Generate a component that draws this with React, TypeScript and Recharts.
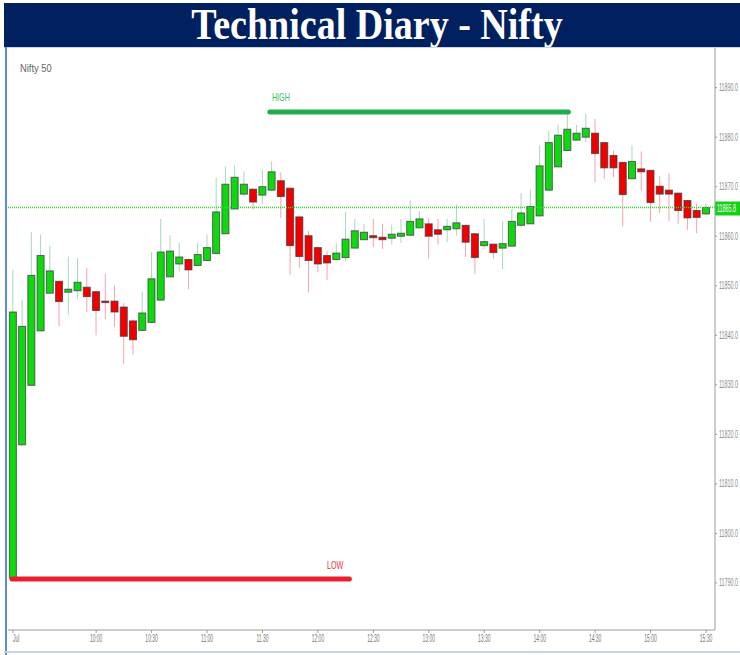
import { ComposedChart, Bar, XAxis, YAxis, ReferenceLine } from 'recharts'

// 5-minute candles, 09:15 .. 15:30
const opens = [
  11791.0, 11817.9, 11829.9, 11840.9, 11848.5, 11850.9, 11848.7, 11849.0, 11849.7, 11848.8,
  11846.9, 11846.9, 11845.7, 11842.9, 11841.0, 11842.6, 11847.1, 11851.8, 11854.4, 11855.3,
  11854.1, 11855.1, 11856.5, 11860.5, 11865.5, 11868.5, 11869.5, 11868.3, 11869.3, 11871.2,
  11869.7, 11863.9, 11860.1, 11857.7, 11856.1, 11855.3, 11855.7, 11857.6, 11859.3, 11860.1,
  11859.8, 11859.6, 11860.0, 11860.2, 11861.7, 11862.5, 11861.3, 11861.3, 11861.5, 11862.2,
  11860.5, 11858.1, 11858.4, 11857.6, 11858.0, 11862.2, 11862.5, 11864.1, 11869.3, 11874.0,
  11877.3, 11879.4, 11880.0, 11880.8, 11878.9, 11876.3, 11874.9, 11871.6, 11873.6, 11873.3,
  11870.1, 11869.3, 11868.7, 11867.2, 11865.2, 11864.5,
]
const highs = [
  11853.2, 11847.2, 11860.8, 11860.4, 11858.1, 11851.0, 11855.9, 11855.6, 11853.6, 11849.0,
  11852.4, 11850.0, 11846.5, 11843.1, 11848.8, 11856.8, 11863.5, 11860.2, 11858.7, 11855.5,
  11858.7, 11860.4, 11871.8, 11874.1, 11874.3, 11873.1, 11869.6, 11873.4, 11875.1, 11872.9,
  11869.8, 11863.9, 11861.1, 11857.9, 11857.0, 11858.6, 11864.9, 11863.5, 11862.5, 11863.5,
  11862.5, 11862.3, 11863.5, 11867.2, 11865.0, 11863.7, 11863.5, 11863.5, 11866.4, 11862.3,
  11860.6, 11863.5, 11858.5, 11863.0, 11865.5, 11868.7, 11869.4, 11878.3, 11881.3, 11882.5,
  11885.2, 11882.5, 11884.7, 11883.7, 11879.0, 11877.3, 11875.0, 11878.3, 11877.1, 11873.4,
  11872.2, 11872.8, 11868.8, 11867.3, 11866.6, 11866.6,
]
const lows = [
  11790.6, 11817.5, 11829.8, 11840.8, 11848.4, 11841.8, 11844.1, 11847.4, 11844.7, 11840.0,
  11843.3, 11841.7, 11834.2, 11836.1, 11840.8, 11842.5, 11847.1, 11851.7, 11852.9, 11849.3,
  11854.0, 11855.1, 11856.4, 11860.4, 11865.5, 11868.0, 11865.4, 11866.4, 11869.2, 11863.7,
  11852.2, 11853.6, 11848.6, 11852.7, 11851.2, 11855.2, 11855.0, 11857.6, 11859.2, 11857.8,
  11857.4, 11858.3, 11858.6, 11860.2, 11861.6, 11855.5, 11858.3, 11858.8, 11860.1, 11855.8,
  11852.4, 11857.3, 11855.5, 11853.4, 11857.9, 11862.1, 11862.5, 11864.0, 11869.2, 11874.0,
  11877.2, 11879.3, 11879.0, 11870.9, 11871.6, 11871.9, 11862.0, 11871.5, 11869.2, 11862.9,
  11864.7, 11863.0, 11862.5, 11861.3, 11860.6, 11864.4,
]
const closes = [
  11844.7, 11841.8, 11852.1, 11856.1, 11853.0, 11846.8, 11849.3, 11850.7, 11847.8, 11845.0,
  11846.6, 11844.7, 11839.8, 11839.1, 11844.5, 11851.4, 11856.8, 11857.0, 11855.8, 11853.2,
  11856.3, 11857.7, 11864.9, 11870.5, 11871.9, 11870.5, 11866.9, 11870.0, 11873.0, 11868.0,
  11858.1, 11855.9, 11855.1, 11854.4, 11854.6, 11856.6, 11859.4, 11861.1, 11860.8, 11859.7,
  11859.3, 11860.4, 11860.6, 11863.0, 11863.5, 11860.0, 11860.4, 11862.0, 11862.7, 11858.8,
  11855.7, 11858.9, 11856.7, 11858.5, 11863.0, 11864.7, 11866.0, 11874.2, 11878.9, 11880.4,
  11881.6, 11880.8, 11881.8, 11876.7, 11873.8, 11873.8, 11868.4, 11875.1, 11873.0, 11866.8,
  11868.5, 11868.5, 11865.2, 11863.7, 11863.8, 11865.8,
]

const timeTickIndexes = [0, 9, 15, 21, 27, 33, 39, 45, 51, 57, 63, 69, 75]
const timeTickLabels = [
  'Jul', '10:00', '10:30', '11:00', '11:30', '12:00', '12:30',
  '13:00', '13:30', '14:00', '14:30', '15:00', '15:30',
]
const priceTicks = [11790, 11800, 11810, 11820, 11830, 11840, 11850, 11860, 11870, 11880, 11890]
const lastPrice = 11865.8
const dayHigh = { value: 11885.1, from: 27.8, to: 60.1 }
const dayLow = { value: 11790.8, from: -0.1, to: 36.4 }

const FONT = "'Liberation Sans', Arial, sans-serif"

const candles = opens.map((open, i) => ({
  i,
  open,
  high: highs[i],
  low: lows[i],
  close: closes[i],
}))

// squeezed text, the source chart uses a very narrow font
const Narrow = ({ x, y, sx, anchor, fill, size, children }: any) => (
  <g transform={`translate(${x},${y}) scale(${sx},1)`}>
    <text x={0} y={0} fill={fill} fontSize={size} fontFamily={FONT} textAnchor={anchor ?? 'start'}>
      {children}
    </text>
  </g>
)

const Candle = (props: any) => {
  const { x, y, width, height, payload } = props
  const { open, close, high, low } = payload
  const up = close >= open
  const top = Math.min(y, y + height)
  const h = Math.abs(height)
  const ppu = h / (high - low || 1)
  const yOf = (v: number) => top + (high - v) * ppu
  const cx = x + width / 2
  const bodyTop = yOf(Math.max(open, close))
  const bodyBot = yOf(Math.min(open, close))
  return (
    <g>
      <line
        x1={cx}
        x2={cx}
        y1={top}
        y2={top + h}
        stroke={up ? '#a9d8bb' : '#f5a3ab'}
        strokeWidth={1}
      />
      <rect
        x={x}
        y={bodyTop}
        width={width}
        height={Math.max(bodyBot - bodyTop, 1.5)}
        fill={up ? '#10d810' : '#f20000'}
        stroke="#3a3a3a"
        strokeOpacity={0.75}
        strokeWidth={1}
      />
    </g>
  )
}

const TimeTick = (props: any) => {
  const { x, y, payload } = props
  const label = timeTickLabels[timeTickIndexes.indexOf(payload.value)] ?? ''
  return (
    <Narrow
      x={x}
      y={y + 8.5}
      sx={0.5}
      size={10}
      fill="#777"
      anchor={label === 'Jul' ? 'start' : 'middle'}
    >
      {label}
    </Narrow>
  )
}

const PriceTick = (props: any) => {
  const { x, y, payload } = props
  return (
    <Narrow x={x + 1} y={y + 3.5} sx={0.54} size={10} fill="#8a8a8a">
      {Number(payload.value).toFixed(1)}
    </Narrow>
  )
}

const PriceTag = (props: any) => {
  const { viewBox } = props
  const x = viewBox.x + viewBox.width
  const y = viewBox.y
  return (
    <g>
      <rect x={x} y={y - 6} width={30} height={14} fill="#16d016" />
      <Narrow x={x + 2} y={y + 4.5} sx={0.54} size={10} fill="#fff">
        {lastPrice.toFixed(1)}
      </Narrow>
    </g>
  )
}

const HighTag = (props: any) => {
  const { viewBox } = props
  return (
    <Narrow x={viewBox.x + 2} y={viewBox.y - 11} sx={0.72} size={10} fill="#3cbf62">
      HIGH
    </Narrow>
  )
}

const LowTag = (props: any) => {
  const { viewBox } = props
  return (
    <Narrow x={viewBox.x + viewBox.width - 6} y={viewBox.y - 10} sx={0.72} size={10} fill="#e8303c" anchor="end">
      LOW
    </Narrow>
  )
}

export default function App() {
  return (
    <div style={{ position: 'relative', width: 740, height: 655, overflow: 'hidden', background: '#fff' }}>
      <style>{'body{margin:0}'}</style>
      <div
        style={{
          position: 'absolute',
          left: 4,
          top: 3,
          width: 736,
          height: 44,
          background: '#002060',
        }}
      />
      <span
        style={{
          position: 'absolute',
          left: 377,
          top: 3,
          height: 44,
          lineHeight: '44px',
          whiteSpace: 'nowrap',
          color: '#fff',
          fontFamily: "'Liberation Serif', 'Times New Roman', serif",
          fontWeight: 'bold',
          fontSize: 44,
          transform: 'translateX(-50%) scaleX(0.864)',
        }}
      >
        Technical Diary - Nifty
      </span>
      <div style={{ position: 'absolute', left: 4, top: 47, width: 736, height: 1, background: '#c9d3e3' }} />
      <div style={{ position: 'absolute', left: 5, top: 47, width: 2, height: 608, background: '#5b8dd3' }} />
      <div style={{ position: 'absolute', left: 4, top: 651, width: 736, height: 2, background: '#c3d5ec' }} />
      <div
        style={{
          position: 'absolute',
          left: 20,
          top: 62,
          color: '#666',
          fontSize: 11,
          fontFamily: FONT,
          transform: 'scaleX(0.85)',
          transformOrigin: 'left top',
        }}
      >
        Nifty 50
      </div>
      <div style={{ position: 'absolute', left: 0, top: 0 }}>
        <ComposedChart
          width={740}
          height={655}
          data={candles}
          margin={{ top: 48, right: 0, bottom: 0, left: 8 }}
        >
          <XAxis
            type="number"
            dataKey="i"
            domain={[-0.54, 75.97]}
            allowDataOverflow
            ticks={timeTickIndexes}
            interval={0}
            height={25}
            stroke="#9a9a9a"
            tickSize={3}
            tickMargin={0}
            tick={<TimeTick />}
          />
          <YAxis
            orientation="right"
            domain={[11780.5, 11898]}
            allowDataOverflow
            ticks={priceTicks}
            interval={0}
            width={25}
            stroke="#9a9a9a"
            tickSize={2}
            tickMargin={1}
            tick={<PriceTick />}
          />
          <ReferenceLine
            y={lastPrice}
            stroke="#22e022"
            strokeDasharray="1 1"
            strokeWidth={1.3}
            label={<PriceTag />}
          />
          <ReferenceLine
            segment={[
              { x: dayHigh.from, y: dayHigh.value },
              { x: dayHigh.to, y: dayHigh.value },
            ]}
            stroke="#22ad4c"
            strokeWidth={5}
            strokeLinecap="round"
            label={<HighTag />}
          />
          <ReferenceLine
            segment={[
              { x: dayLow.from, y: dayLow.value },
              { x: dayLow.to, y: dayLow.value },
            ]}
            stroke="#e8202c"
            strokeWidth={5}
            strokeLinecap="round"
            label={<LowTag />}
          />
          <Bar
            dataKey={(d: any) => [d.low, d.high]}
            barSize={7}
            shape={<Candle />}
            isAnimationActive={false}
          />
        </ComposedChart>
      </div>
    </div>
  )
}
